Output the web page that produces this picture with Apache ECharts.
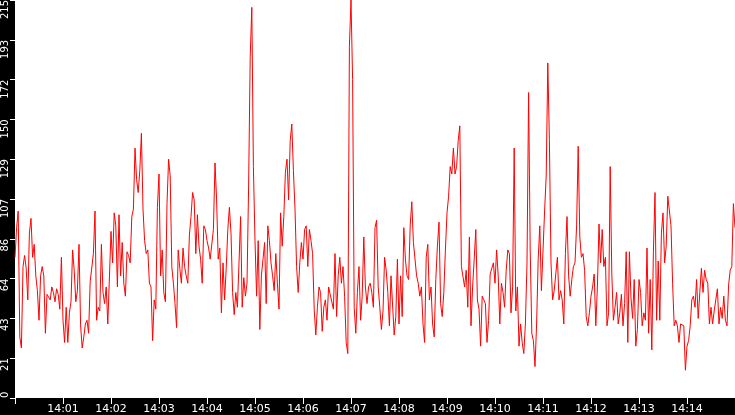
<!DOCTYPE html>
<html><head><meta charset="utf-8">
<script src="https://cdn.jsdelivr.net/npm/echarts/dist/echarts.min.js"></script>
<style>html,body{margin:0;padding:0;background:#000;overflow:hidden}#c{width:735px;height:415px}</style>
</head><body><div id="c"></div>
<script>
// sampling: one value every 2 seconds starting at 14:00:00
const startClock = [14, 0, 0];
const stepSeconds = 2;
const yTickLabels = ['0','21','43','64','86','107','129','150','172','193','215'];
const xTickLabels = ['14:01','14:02','14:03','14:04','14:05','14:06','14:07','14:08','14:09','14:10','14:11','14:12','14:13','14:14'];

const values1400 = [76,92,101,33,27,71,77,70,53,89,97,76,83,66,58,42,66,71,66,35,56,57,53,60,57,52,59,56,48,76,42,30,49,30,46,52,80,69,52,58,83,39,27,33,40,42,35,63,62,78,101,42,49,47,83,57,51,60,40,39,90,73,100,93,60,99,66,84,62,55,79,77,73,98,102];
const values1402 = [135,118,111,123,143,102,85,78,80,62,60,31,53,48,103,121,66,80,57,52,105,129,120,71,62,51,38,80,70,62,81,71,66,62,88,98,111,107,78,99,82,75,62,93,91,85,81,75,76,91,127,107,75,81,46,73,53,70,91,103,89,57,45,57,49,73,98,49,65,55,62,114,184,211,125];
const values1405 = [85,55,85,37,66,75,84,51,93,85,73,66,58,78,62,48,100,82,98,122,129,107,139,148,123,102,71,57,73,84,75,91,93,71,91,85,78,48,34,49,60,57,36,49,53,42,60,56,57,48,78,44,66,76,62,71,55,30,24,190,215,172,49,35,57,71,42,55,87,60,51,60,62,57,49];
const values1407 = [92,96,60,49,37,47,76,69,57,39,66,66,34,44,75,40,66,44,92,75,66,64,93,106,84,75,66,62,55,60,40,30,76,83,53,60,40,33,64,82,95,51,44,57,80,100,109,125,121,135,121,125,139,147,71,71,60,69,49,87,39,60,75,91,53,48,28,55,53,51,30,42,67,66,73];
const values1410 = [62,80,66,40,62,57,49,69,80,78,46,60,135,47,60,28,40,30,24,40,73,165,80,35,31,17,40,75,93,58,58,101,120,181,139,73,53,58,58,76,53,58,53,40,78,98,66,55,64,71,73,93,136,87,76,78,69,44,39,46,55,60,67,39,60,94,73,91,71,76,39,46,125,67,42];
const values1412 = [49,57,40,46,56,39,51,79,30,79,54,43,64,28,37,64,57,39,46,42,81,35,64,26,79,111,42,74,42,89,100,73,82,109,109,93,62,39,42,39,30,40,39,39,15,28,31,39,53,55,49,64,43,57,70,57,69,64,62,40,49,40,47,46,59,40,49,43,55,42,39,61,69,71,105,92];

const values = [].concat(values1400, values1402, values1405, values1407, values1410, values1412);
const t0 = new Date(2024, 0, 1, startClock[0], startClock[1], startClock[2]).getTime();
const data = values.map((v, i) => [t0 + i * stepSeconds * 1000, v]);
const tEnd = t0 + (values.length - 1) * stepSeconds * 1000;

function hhmm(ms) {
  const d = new Date(ms);
  return String(d.getHours()).padStart(2, '0') + ':' + String(d.getMinutes()).padStart(2, '0');
}

const chart = echarts.init(document.getElementById('c'), null, {renderer: 'canvas'});
chart.setOption({
  backgroundColor: '#000',
  animation: false,
  grid: {left: 15, right: 0, top: 0, bottom: 17, containLabel: false, outerBoundsMode: 'none',
         show: true, backgroundColor: '#fff', borderWidth: 0},
  xAxis: {
    type: 'time', min: t0, max: tEnd, interval: 60000, minInterval: 60000, maxInterval: 60000,
    splitLine: {show: false},
    axisLine: {show: false},
    axisTick: {show: true, length: 6, lineStyle: {color: '#fff', width: 1}},
    axisLabel: {
      color: '#fff', fontSize: 11, fontFamily: 'DejaVu Sans', margin: 6,
      showMinLabel: false, showMaxLabel: false, hideOverlap: false,
      formatter: function (v) { const s = hhmm(v); return xTickLabels.indexOf(s) >= 0 ? s : ''; }
    }
  },
  yAxis: {
    type: 'value', min: 0, max: 215, interval: 21.5,
    splitLine: {show: false},
    axisLine: {show: false},
    axisTick: {show: true, length: 5, lineStyle: {color: '#fff', width: 1}},
    axisLabel: {
      color: '#fff', fontSize: 10, fontFamily: 'DejaVu Sans', rotate: 90, margin: 5,
      align: 'right', verticalAlign: 'bottom', alignMinLabel: 'left',
      showMinLabel: true, showMaxLabel: true, hideOverlap: false,
      formatter: function (v, i) { return yTickLabels[i]; }
    }
  },
  series: [{
    type: 'line', data: data, showSymbol: false, symbol: 'none', sampling: false,
    lineStyle: {color: '#ff0000', width: 1}, clip: true
  }]
});
</script>
</body></html>
